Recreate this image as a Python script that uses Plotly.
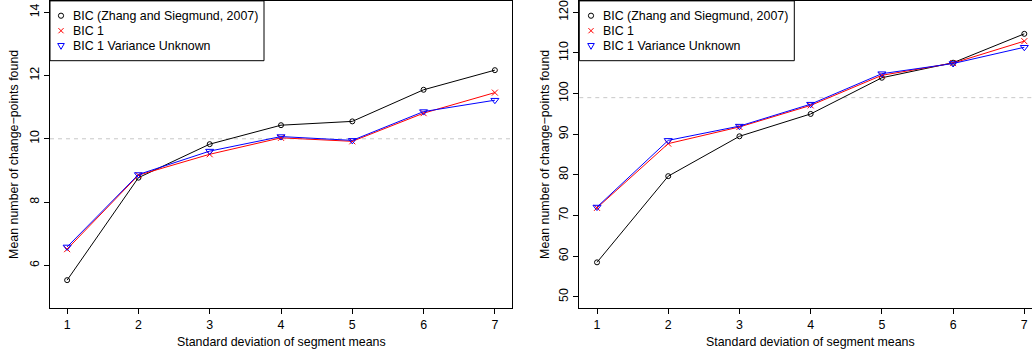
import plotly.graph_objects as go

# ---------------- data ----------------
sd_values = [1, 2, 3, 4, 5, 6, 7]

series_names = ["BIC (Zhang and Siegmund, 2007)", "BIC 1", "BIC 1 Variance Unknown"]

left_bic_zs = [5.53, 8.77, 9.83, 10.43, 10.55, 11.55, 12.17]
left_bic1 = [6.51, 8.85, 9.51, 10.03, 9.92, 10.81, 11.46]
left_bic1_vu = [6.58, 8.87, 9.61, 10.07, 9.95, 10.86, 11.22]
left_true_count = 10
left_yticks = [6, 8, 10, 12, 14]

right_bic_zs = [58.5, 79.7, 89.5, 95.0, 103.9, 107.6, 114.7]
right_bic1 = [71.9, 87.7, 91.8, 97.1, 104.5, 107.5, 112.9]
right_bic1_vu = [72.1, 88.5, 92.0, 97.4, 104.9, 107.4, 111.4]
right_true_count = 99
right_yticks = [50, 60, 70, 80, 90, 100, 110, 120]

x_title = "Standard deviation of segment means"
y_title = "Mean number of change\u2212points found"

# ---------------- layout helpers ----------------
W, H = 1032, 354
FONT = "Liberation Sans, Arial, Helvetica, sans-serif"
FS = 12.4


def px(x):
    return x / W


def py(y):
    return 1 - y / H


colors = ["black", "red", "blue"]
symbols = ["circle-open", "x-thin-open", "triangle-down-open"]
sizes = [5, 6, 7]

fig = go.Figure()

panels = [
    ("x", "y", [left_bic_zs, left_bic1, left_bic1_vu]),
    ("x2", "y2", [right_bic_zs, right_bic1, right_bic1_vu]),
]
for xa, ya, ys in panels:
    for name, vals, c, s, sz in zip(series_names, ys, colors, symbols, sizes):
        fig.add_trace(go.Scatter(
            x=sd_values, y=vals, xaxis=xa, yaxis=ya, name=name,
            mode="lines+markers", showlegend=False,
            line=dict(color=c, width=1),
            marker=dict(symbol=s, size=sz, color=c, line=dict(color=c, width=1)),
            cliponaxis=False,
        ))

axis_common = dict(
    showgrid=False, zeroline=False, showline=True, linecolor="black", linewidth=1,
    ticks="outside", ticklen=5, tickwidth=1, tickcolor="black",
    tickfont=dict(family=FONT, size=FS, color="black"),
    ticklabeloverflow="allow",
)

plot_bottom, plot_top = 308.3, 0.9
ydom = [py(plot_bottom), py(plot_top)]

fig.update_layout(
    width=W, height=H, autosize=False,
    margin=dict(l=0, r=0, t=0, b=0),
    paper_bgcolor="white", plot_bgcolor="white",
    font=dict(family=FONT, size=FS, color="black"),
    xaxis=dict(domain=[px(50), px(512)], range=[0.76, 7.24], tickvals=sd_values,
               anchor="y", mirror=True, **axis_common),
    yaxis=dict(domain=ydom, range=[4.64, 14.36], tickvals=left_yticks, tickangle=-90,
               anchor="x", mirror=True, **axis_common),
    xaxis2=dict(domain=[px(579.3), 1.0], range=[0.7515, 0.7515 + (W - 579.3) / 71.22],
                tickvals=sd_values, anchor="y2", mirror=True, **axis_common),
    yaxis2=dict(domain=ydom, range=[47.2, 122.8], tickvals=right_yticks, tickangle=-90,
                anchor="x2", mirror=False, **axis_common),
    showlegend=False,
)

shapes = []
annotations = []

# reference (true count) lines
for xa, ya, val in [("x", "y", left_true_count), ("x2", "y2", right_true_count)]:
    shapes.append(dict(type="line", xref=xa + " domain", yref=ya, x0=0, x1=1, y0=val, y1=val,
                       line=dict(color="#c8c8c8", width=1, dash="4px,4px"), layer="below"))

# axis titles
for cx, ycx in [(281, 13.3), (810.5, 544.3)]:
    annotations.append(dict(text=x_title, xref="paper", yref="paper", x=px(cx), y=py(341.7),
                            xanchor="center", yanchor="middle", showarrow=False,
                            font=dict(family=FONT, size=FS, color="black")))
    annotations.append(dict(text=y_title, xref="paper", yref="paper", x=px(ycx), y=py(154.6),
                            xanchor="center", yanchor="middle", showarrow=False, textangle=-90,
                            font=dict(family=FONT, size=FS, color="black")))

# legends (drawn as boxes with keys)
legend_rows = [15.7, 30.7, 45.7]
for box_l, box_r, key_x, text_x in [(50, 264, 61, 71), (579.3, 794.3, 591, 601)]:
    shapes.append(dict(type="rect", xref="paper", yref="paper",
                       x0=px(box_l), x1=px(box_r), y0=py(60.7), y1=py(plot_top),
                       line=dict(color="black", width=1), fillcolor="white", layer="above"))
    for name, c, ry in zip(series_names, colors, legend_rows):
        annotations.append(dict(text=name, xref="paper", yref="paper", x=px(text_x), y=py(ry),
                                xanchor="left", yanchor="middle", showarrow=False,
                                font=dict(family=FONT, size=FS, color="black")))
    # circle key
    r = 2.6
    shapes.append(dict(type="circle", xref="paper", yref="paper",
                       x0=px(key_x - r), x1=px(key_x + r), y0=py(legend_rows[0] + r),
                       y1=py(legend_rows[0] - r), line=dict(color="black", width=1), layer="above"))
    # x key
    h = 2.6
    yy = legend_rows[1]
    for dy in (h, -h):
        shapes.append(dict(type="line", xref="paper", yref="paper",
                           x0=px(key_x - h), x1=px(key_x + h), y0=py(yy - dy), y1=py(yy + dy),
                           line=dict(color="red", width=1), layer="above"))
    # triangle-down key
    yy = legend_rows[2]
    t = 3.3
    path = "M {:.5f},{:.5f} L {:.5f},{:.5f} L {:.5f},{:.5f} Z".format(
        px(key_x - t), py(yy - 2.2), px(key_x + t), py(yy - 2.2), px(key_x), py(yy + 3.6))
    shapes.append(dict(type="path", xref="paper", yref="paper", path=path,
                       line=dict(color="blue", width=1), layer="above"))

fig.update_layout(shapes=shapes, annotations=annotations)

fig.write_html(
    "out.html",
    config={"displayModeBar": False},
    post_script="document.body.style.margin='0';document.body.style.overflow='hidden';",
)
